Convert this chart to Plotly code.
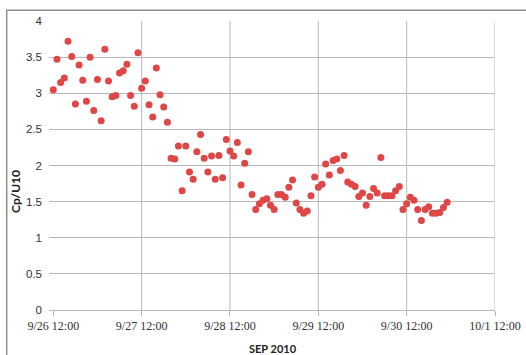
import pandas as pd
import plotly.graph_objects as go

# Hourly Cp/U10 ratio, starting 2010-09-26 12:00
start_time = "2010-09-26 12:00"
cp_u10 = [
    3.05, 3.47, 3.15, 3.21, 3.72, 3.51, 2.85, 3.39, 3.18, 2.89,
    3.50, 2.76, 3.19, 2.62, 3.61, 3.17, 2.95, 2.97, 3.28, 3.31,
    3.40, 2.97, 2.82, 3.56, 3.07, 3.17, 2.84, 2.67, 3.35, 2.98,
    2.81, 2.60, 2.10, 2.09, 2.27, 1.65, 2.27, 1.91, 1.81, 2.19,
    2.43, 2.10, 1.91, 2.13, 1.81, 2.14, 1.83, 2.36, 2.20, 2.13,
    2.32, 1.73, 2.03, 2.19, 1.60, 1.39, 1.47, 1.52, 1.54, 1.45,
    1.39, 1.60, 1.60, 1.56, 1.70, 1.80, 1.48, 1.39, 1.34, 1.37,
    1.58, 1.84, 1.70, 1.74, 2.02, 1.87, 2.07, 2.09, 1.93, 2.14,
    1.77, 1.74, 1.71, 1.57, 1.62, 1.45, 1.57, 1.68, 1.62, 2.11,
    1.58, 1.58, 1.58, 1.65, 1.71, 1.39, 1.47, 1.56, 1.52, 1.39,
    1.24, 1.39, 1.43, 1.34, 1.34, 1.35, 1.42, 1.49,
]
times = pd.date_range(start_time, periods=len(cp_u10), freq="h")

# Axis ticks
x_tick_dates = ["2010-09-26 12:00", "2010-09-27 12:00", "2010-09-28 12:00",
                "2010-09-29 12:00", "2010-09-30 12:00", "2010-10-01 12:00"]
x_tick_labels = ["9/26 12:00", "9/27 12:00", "9/28 12:00",
                 "9/29 12:00", "9/30 12:00", "10/1 12:00"]
y_tick_vals = [0, 0.5, 1, 1.5, 2, 2.5, 3, 3.5, 4]
y_tick_labels = ["0", "0.5", "1", "1.5", "2", "2.5", "3", "3.5", "4"]

GRID = "#B8B8B8"
W, H = 526, 355
ML, MR, MT, MB = 49, 31, 21, 45
PW, PH = W - ML - MR, H - MT - MB

fig = go.Figure(
    go.Scatter(
        x=times, y=cp_u10, mode="markers",
        marker=dict(color="#DF4646", size=7, line=dict(width=0)),
        cliponaxis=False,
    )
)

# vertical grid lines at each labelled day except the first
shapes = [
    dict(type="line", xref="x", yref="paper", x0=d, x1=d, y0=0, y1=1,
         line=dict(color=GRID, width=1), layer="below")
    for d in x_tick_dates[1:]
]
# outer chart frame
shapes.append(dict(
    type="rect", xref="paper", yref="paper",
    x0=(6.7 - ML) / PW, x1=(W + 20 - ML) / PW,
    y0=(H - MB - (H + 20)) / PH, y1=(H - MB - 10.3) / PH,
    line=dict(color="#8E8E8E", width=1.5), fillcolor="rgba(0,0,0,0)",
))

fig.update_layout(
    width=W, height=H,
    margin=dict(l=ML, r=MR, t=MT, b=MB, autoexpand=False),
    paper_bgcolor="white", plot_bgcolor="white",
    showlegend=False,
    shapes=shapes,
    xaxis=dict(
        type="date", automargin=False,
        range=[pd.Timestamp(x_tick_dates[0]) - pd.Timedelta(minutes=70),
               pd.Timestamp(x_tick_dates[-1])],
        tickvals=x_tick_dates, ticktext=x_tick_labels,
        showgrid=False, zeroline=False,
        showline=True, linecolor=GRID, linewidth=1,
        ticks="outside", ticklen=5, tickcolor=GRID, tickwidth=1,
        tickfont=dict(family="Liberation Serif", size=12, color="#303030"),
    ),
    yaxis=dict(
        range=[0, 4], automargin=False,
        tickvals=y_tick_vals, ticktext=y_tick_labels,
        showgrid=True, gridcolor=GRID, gridwidth=1,
        zeroline=False, showline=False, ticks="",
        ticklabelstandoff=6,
        tickfont=dict(family="Liberation Sans", size=11.5, color="#303030"),
    ),
    annotations=[
        dict(
            text="<b>Cp/U10</b>", textangle=-90,
            xref="paper", yref="paper",
            x=(15 - ML) / PW, y=(H - MB - 192) / PH,
            xanchor="center", yanchor="middle", showarrow=False,
            font=dict(family="Lato", size=12, color="#202020"),
        ),
        dict(
            text="<b>SEP 2010</b>",
            xref="paper", yref="paper",
            x=(272.5 - ML) / PW, y=(H - MB - 348) / PH,
            xanchor="center", yanchor="middle", showarrow=False,
            font=dict(family="Lato", size=11, color="#202020"),
        ),
    ],
)

fig.write_html("out.html")
